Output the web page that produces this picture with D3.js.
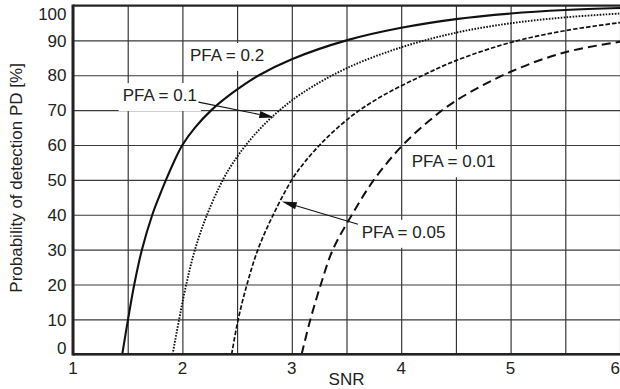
<!DOCTYPE html>
<html><head><meta charset="utf-8">
<script src="https://cdn.jsdelivr.net/npm/d3@7/dist/d3.min.js"></script>
<style>
html,body{margin:0;padding:0;background:#fff;}
svg{display:block;font-family:"Liberation Sans",Arial,sans-serif;}
</style></head>
<body>
<svg id="chart" width="620" height="389"></svg>
<script>
// ---- data ----
const xTicks = [1, 2, 3, 4, 5, 6];
const xGrid = [1, 1.5, 2, 2.5, 3, 3.5, 4, 4.5, 5, 5.5, 6];
const yTicks = [0, 10, 20, 30, 40, 50, 60, 70, 80, 90, 100];

const snrPfa02 = [1.45, 1.503, 1.56, 1.63, 1.725, 1.785, 1.85, 1.92, 2.0, 2.115, 2.265, 2.46, 2.7, 3.0, 3.5, 4.0, 4.5, 5.0, 5.5, 6.0];
const pdPfa02  = [0, 10, 20, 30, 40, 45, 50, 55, 60, 65, 70, 75, 80, 84.6, 90, 93.6, 96.1, 97.7, 98.7, 99.3];

const snrPfa01 = [1.91, 1.97, 2.035, 2.115, 2.225, 2.37, 2.465, 2.58, 2.72, 2.89, 3.1, 3.5, 4.0, 4.5, 5.0, 5.5, 6.0];
const pdPfa01  = [0, 10, 20, 30, 40, 50, 55, 60, 65, 70, 75, 82, 88, 92.2, 94.9, 96.6, 97.7];

const snrPfa005 = [2.45, 2.51, 2.59, 2.69, 2.83, 3.0, 3.115, 3.255, 3.42, 3.62, 3.88, 4.2, 4.5, 5.0, 5.5, 6.0];
const pdPfa005  = [0, 10, 20, 30, 40, 50, 55, 60, 65, 70, 75, 80, 84.2, 89.4, 92.8, 95.1];

const snrPfa001 = [3.09, 3.17, 3.265, 3.375, 3.55, 3.75, 4.0, 4.25, 4.5, 5.0, 5.5, 6.0];
const pdPfa001  = [0, 10, 20, 30, 40, 50, 59.5, 66.8, 72.7, 81, 86.6, 89.6];

const seriesNames = ["PFA = 0.2", "PFA = 0.1", "PFA = 0.05", "PFA = 0.01"];

// ---- layout / styles ----
const W = 620, H = 389;
const plot = {left: 73, right: 620, top: 5.5, bottom: 354.3};
const styles = [
  {dash: null, width: 2.1},
  {dash: "1.6,1.4", width: 1.9},
  {dash: "4.5,2", width: 1.7},
  {dash: "9,5", width: 2}
];
const ink = "#222";
const font = 17;

const series = [
  {x: snrPfa02, y: pdPfa02},
  {x: snrPfa01, y: pdPfa01},
  {x: snrPfa005, y: pdPfa005},
  {x: snrPfa001, y: pdPfa001}
].map((s, i) => ({name: seriesNames[i], pts: s.x.map((v, j) => [v, s.y[j]]), style: styles[i]}));

// annotations in data coordinates
const annotations = [
  {text: seriesNames[0], at: [2.069, 84.1]},
  {text: seriesNames[1], at: [1.454, 72.6], arrowFrom: [2.147, 72.3], arrowTo: [2.84, 67.9]},
  {text: seriesNames[3], at: [4.096, 53.6]},
  {text: seriesNames[2], at: [3.639, 33.4], arrowFrom: [3.605, 37.3], arrowTo: [2.908, 43.8]}
];

const x = d3.scaleLinear().domain([1, 6]).range([plot.left, plot.right]);
const y = d3.scaleLinear().domain([0, 100]).range([plot.bottom, plot.top]);

const svg = d3.select("#chart");
svg.append("rect").attr("width", W).attr("height", H).attr("fill", "#fff");

svg.append("defs").append("clipPath").attr("id", "clip")
  .append("rect").attr("x", plot.left).attr("y", plot.top - 2)
  .attr("width", plot.right - plot.left).attr("height", plot.bottom - plot.top + 2);

// grid via axes
const gx = svg.append("g").attr("transform", `translate(0,${plot.bottom})`)
  .call(d3.axisBottom(x).tickValues(xGrid).tickSize(-(plot.bottom - plot.top)).tickFormat(""));
gx.select(".domain").remove();
gx.selectAll("line").attr("stroke", "#262626").attr("stroke-width", 1.1);

const gy = svg.append("g").attr("transform", `translate(${plot.left},0)`)
  .call(d3.axisLeft(y).tickValues(yTicks).tickSize(-(plot.right - plot.left)).tickFormat(""));
gy.select(".domain").remove();
gy.selectAll("line").attr("stroke", "#3a3a3a").attr("stroke-width", 1.1);

// annotation boxes (white, hide grid)
const annBoxes = svg.append("g");

// curves
const line = d3.line().x(d => x(d[0])).y(d => y(d[1])).curve(d3.curveCatmullRom.alpha(0.5));
const cg = svg.append("g").attr("clip-path", "url(#clip)");
series.forEach(s => {
  cg.append("path").attr("d", line(s.pts))
    .attr("fill", "none").attr("stroke", "#111")
    .attr("stroke-width", s.style.width)
    .attr("stroke-dasharray", s.style.dash)
    .attr("stroke-linejoin", "round");
});

// frame
svg.append("line").attr("x1", plot.left).attr("x2", plot.right).attr("y1", plot.top).attr("y2", plot.top)
  .attr("stroke", ink).attr("stroke-width", 2.2);
svg.append("line").attr("x1", plot.left).attr("x2", plot.right).attr("y1", plot.bottom).attr("y2", plot.bottom)
  .attr("stroke", ink).attr("stroke-width", 2.6);
svg.append("line").attr("x1", plot.left).attr("x2", plot.left).attr("y1", plot.top - 1).attr("y2", plot.bottom + 1.3)
  .attr("stroke", ink).attr("stroke-width", 3);

// annotation texts
const annTexts = svg.append("g");
annotations.forEach(a => {
  const t = annTexts.append("text")
    .attr("x", x(a.at[0])).attr("y", y(a.at[1]))
    .attr("font-size", font).attr("fill", ink)
    .text(a.text);
  const bb = t.node().getBBox();
  annBoxes.append("rect")
    .attr("x", bb.x - 4).attr("y", bb.y - 3)
    .attr("width", bb.width + 8).attr("height", bb.height + 9)
    .attr("fill", "#fff");
});

// arrows
annotations.filter(a => a.arrowFrom).forEach(a => {
  const x0 = x(a.arrowFrom[0]), y0 = y(a.arrowFrom[1]);
  const x1 = x(a.arrowTo[0]), y1 = y(a.arrowTo[1]);
  const ang = Math.atan2(y1 - y0, x1 - x0);
  const L = 15, Wd = 3.6;
  const bx = x1 - L * Math.cos(ang), by = y1 - L * Math.sin(ang);
  svg.append("line").attr("x1", x0).attr("y1", y0).attr("x2", bx).attr("y2", by)
    .attr("stroke", "#111").attr("stroke-width", 1.1);
  const px = -Math.sin(ang) * Wd, py = Math.cos(ang) * Wd;
  svg.append("path")
    .attr("d", `M${x1},${y1}L${bx + px},${by + py}L${bx - px},${by - py}Z`)
    .attr("fill", "#111");
});

// tick labels
svg.append("g").selectAll("text").data(yTicks).join("text")
  .attr("x", plot.left - 6.5)
  .attr("y", d => y(d))
  .attr("dy", d => d === 100 ? "0.85em" : d === 0 ? "0" : "0.36em")
  .attr("text-anchor", "end").attr("font-size", font).attr("fill", ink)
  .text(d => d);

svg.append("g").selectAll("text").data(xTicks).join("text")
  .attr("x", d => x(d)).attr("y", 373.5)
  .attr("text-anchor", d => d === 6 ? "end" : "middle")
  .attr("font-size", font).attr("fill", ink)
  .text(d => d);

// axis titles
svg.append("text").attr("x", (plot.left + plot.right) / 2).attr("y", 385)
  .attr("text-anchor", "middle").attr("font-size", font).attr("fill", ink).text("SNR");
svg.append("text").attr("transform", `translate(22,${(plot.top + plot.bottom) / 2 - 2}) rotate(-90)`)
  .attr("text-anchor", "middle").attr("font-size", font).attr("fill", ink)
  .text("Probability of detection PD [%]");
</script>
</body></html>
